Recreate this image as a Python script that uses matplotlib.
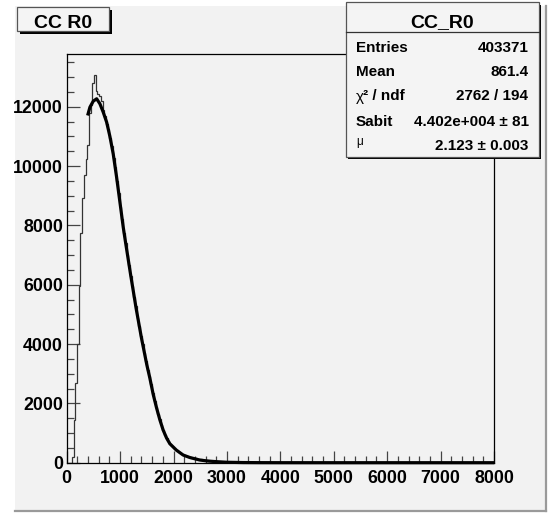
import numpy as np
import matplotlib
matplotlib.use('Agg')
import matplotlib.pyplot as plt
from matplotlib.patches import Rectangle
from matplotlib.ticker import MultipleLocator

plt.rcParams['font.family'] = ['Liberation Sans', 'DejaVu Sans']

# histogram CC_R0: 250 bins of 32 between 0 and 8000
bin_width = 32
n_bins = 250
counts_head = [0, 0, 0, 180, 1450, 2700, 3990, 5950, 7750, 8920,
               9700, 10250, 10720, 11800, 12050, 12800, 13080, 12520, 12430, 12380,
               12180, 11900, 11690, 11420, 11250, 10940, 10680, 10280, 9980, 9500,
               9110, 8620, 8200, 7730, 7400, 6990, 6670, 6280, 5970, 5580,
               5270, 4880, 4610, 4270, 3990, 3690, 3430, 3140, 2910, 2640,
               2360, 2090, 1870, 1640, 1460, 1260, 1110, 950, 840, 725,
               645, 575, 505, 460, 415, 370, 335, 295, 265, 240,
               220, 200, 185, 170, 160, 150, 138, 126, 115, 105,
               96, 88, 80, 72, 65, 58, 52, 46, 40, 35,
               30, 26, 22, 19, 16, 13, 11, 9, 7, 6,
               5, 4, 3, 3, 2, 2, 1, 1]
counts = counts_head + [0] * (n_bins - len(counts_head))

# fitted curve
fit_x = [392, 435, 497, 561, 622, 684, 748, 809, 871, 934, 996, 1058, 1100,
         1200, 1300, 1400, 1500, 1557, 1620, 1682, 1745, 1806, 1870, 1931,
         2056, 2180, 2305, 2491, 2650, 2803, 3000, 3300, 3600, 4000, 5000,
         6000, 7000, 8000]
fit_y = [11707, 11987, 12190, 12270, 12100, 11818, 11480, 11000, 10410, 9630,
         8790, 7946, 7450, 6300, 5200, 4200, 3300, 2850, 2300, 1850, 1440,
         1100, 830, 640, 420, 259, 175, 90, 55, 35, 15, 5, 2, 0.5, 0, 0, 0, 0]

stats_labels = ['Entries', 'Mean', 'χ² / ndf', 'Sabit', 'μ']
stats_values = ['403371', '861.4', '2762 / 194', '4.402e+004 ± 81', '2.123 ± 0.003']

W, H = 548, 515
fig = plt.figure(figsize=(W / 100, H / 100), dpi=100, facecolor='white')

# canvas pad (pixel coordinates, y pointing down)
bg = fig.add_axes([0, 0, 1, 1], zorder=0)
bg.set_xlim(0, W)
bg.set_ylim(H, 0)
bg.axis('off')
bg.add_patch(Rectangle((15, 6), 531, 505, facecolor='#f2f2f2', edgecolor='none'))
bg.plot([15, 546], [510.5, 510.5], color='#9a9a9a', lw=1.6)
bg.plot([545.5, 545.5], [6, 511], color='#9a9a9a', lw=1.6)

ax = fig.add_axes([66.7 / W, 1 - 462.7 / H, (494 - 66.7) / W, (462.7 - 54) / H], zorder=1)
ax.set_facecolor('#f2f2f2')

edges = np.arange(0, 8000 + bin_width, bin_width)
ax.stairs(counts, edges, color='#333333', lw=0.9, zorder=2)
ax.plot(fit_x, fit_y, color='black', lw=2.3, zorder=3, clip_on=False,
        solid_joinstyle='round', solid_capstyle='butt')

ax.set_xlim(0, 8000)
ax.set_ylim(0, 13780)
ax.xaxis.set_major_locator(MultipleLocator(1000))
ax.xaxis.set_minor_locator(MultipleLocator(200))
ax.yaxis.set_major_locator(MultipleLocator(2000))
ax.yaxis.set_minor_locator(MultipleLocator(500))
ax.tick_params(which='both', direction='in', top=False, right=False,
               color='#444444', width=0.9)
ax.tick_params(axis='x', which='major', length=8.6, pad=5.5)
ax.tick_params(axis='x', which='minor', length=5)
ax.tick_params(axis='y', which='major', length=9.4, pad=2.6)
ax.tick_params(axis='y', which='minor', length=5)
for lab in ax.get_xticklabels() + ax.get_yticklabels():
    lab.set_fontweight('bold')
    lab.set_fontsize(12.8)
for sp in ax.spines.values():
    sp.set_color('black')
    sp.set_linewidth(0.9)

# title box and statistics box
fg = fig.add_axes([0, 0, 1, 1], zorder=5)
fg.set_xlim(0, W)
fg.set_ylim(H, 0)
fg.axis('off')
fg.patch.set_alpha(0)

fg.add_patch(Rectangle((20, 10), 91.5, 23.5, facecolor='black', edgecolor='none'))
fg.add_patch(Rectangle((17, 7), 91.5, 23.5, facecolor='#f4f4f4',
                       edgecolor='#555555', lw=0.9))
fg.text(63, 28.3, 'CC R0', ha='center', va='baseline', fontsize=14, fontweight='bold')

bx0, by0, bw, bh = 345.5, 2, 193, 154.5
fg.add_patch(Rectangle((bx0 + 2.5, by0 + 2.5), bw, bh, facecolor='black', edgecolor='none'))
fg.add_patch(Rectangle((bx0, by0), bw, bh, facecolor='#f4f4f4', edgecolor='#555555', lw=0.9))
fg.plot([bx0, bx0 + bw], [32, 32], color='#333333', lw=0.9)
fg.text(bx0 + bw / 2, 27.5, 'CC_R0', ha='center', va='baseline', fontsize=14, fontweight='bold')

row_base = [51.5, 76, 100.5, 125.5, 149.5]
for lbl, val, yb in zip(stats_labels, stats_values, row_base):
    if lbl == 'μ':
        fg.text(356, yb - 5, lbl, ha='left', va='baseline', fontsize=8.5)
    elif lbl.startswith('χ'):
        fg.text(356, yb, lbl[0], ha='left', va='baseline', fontsize=11)
        fg.text(363, yb, lbl[1:], ha='left', va='baseline', fontsize=11, fontweight='bold')
    else:
        fg.text(356, yb, lbl, ha='left', va='baseline', fontsize=11, fontweight='bold')
    fg.text(528.5, yb, val, ha='right', va='baseline', fontsize=11, fontweight='bold')

fig.savefig('out.png', dpi=100, facecolor='white')
